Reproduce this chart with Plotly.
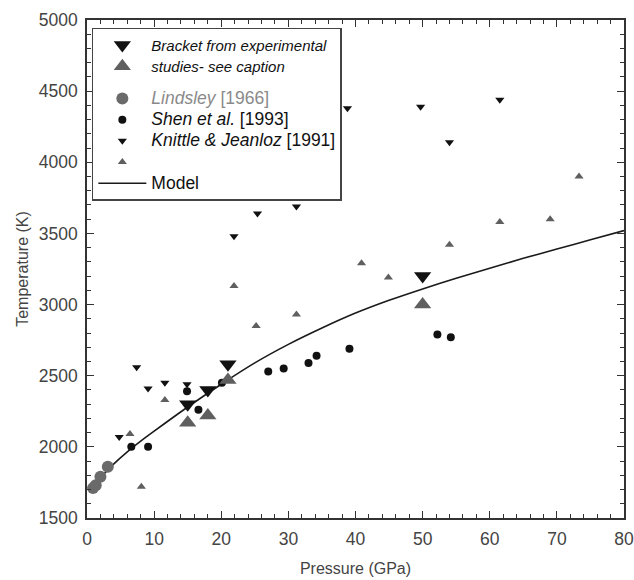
import plotly.graph_objects as go

# ---- data ----
bracket_P = [15, 18, 21, 50]
bracket_T_upper = [2300, 2400, 2580, 3200]
bracket_T_lower = [2170, 2220, 2470, 3000]

lindsley_P = [0.9, 1.3, 2.0, 3.1]
lindsley_T = [1710, 1730, 1790, 1860]

shen_P = [6.6, 9.1, 14.9, 16.6, 20.1, 27.0, 29.3, 33.0, 34.2, 39.1, 52.2, 54.2]
shen_T = [2000, 2000, 2390, 2260, 2450, 2530, 2550, 2590, 2640, 2690, 2790, 2770]

kj_down_P = [4.8, 7.4, 9.1, 11.6, 14.9, 21.9, 25.4, 31.2, 38.8, 49.7, 54.0, 61.5]
kj_down_T = [2070, 2560, 2410, 2450, 2440, 3480, 3640, 3690, 4380, 4390, 4140, 4440]

kj_up_P = [6.4, 8.1, 11.6, 21.9, 25.2, 31.2, 40.9, 44.9, 54.0, 61.5, 69.0, 73.3]
kj_up_T = [2090, 1720, 2330, 3130, 2850, 2930, 3290, 3190, 3420, 3580, 3600, 3900]

model_P = [1.8, 2, 4, 6, 8, 10, 15, 20, 25, 30, 35, 40, 45, 50, 55, 60, 65, 70, 75, 80]
model_T = [1765, 1780, 1880, 1965, 2040, 2110, 2280, 2440, 2590, 2720, 2835, 2940,
           3030, 3110, 3185, 3255, 3325, 3390, 3455, 3520]

x_ticks = [0, 10, 20, 30, 40, 50, 60, 70, 80]
y_ticks = [1500, 2000, 2500, 3000, 3500, 4000, 4500, 5000]

BLACK = "#111111"
GRAY = "#5f5f5f"
FONT = "Liberation Sans, Arial, sans-serif"


def big(txt, size=17.5, color=None):
    style = f"font-size:{size}px" + (f";color:{color}" if color else "")
    return f"<span style='{style}'>{txt}</span>"


fig = go.Figure()

fig.add_trace(go.Scatter(x=model_P, y=model_T, mode="lines",
                         line=dict(color="#1a1a1a", width=1.6, shape="spline", smoothing=0.6),
                         name=big("Model"), legendrank=7, legendgroup="g2"))
fig.add_trace(go.Scatter(x=kj_up_P, y=kj_up_T, mode="markers",
                         marker=dict(symbol="triangle-up", size=8, color=GRAY),
                         name="", legendrank=6, legendgroup="g2"))
fig.add_trace(go.Scatter(x=kj_down_P, y=kj_down_T, mode="markers",
                         marker=dict(symbol="triangle-down", size=8, color=BLACK),
                         name=big("<i>Knittle & Jeanloz</i> [1991]"), legendrank=5, legendgroup="g2"))
fig.add_trace(go.Scatter(x=lindsley_P, y=lindsley_T, mode="markers",
                         marker=dict(symbol="circle", size=12, color="#6a6a6a"),
                         name=big("<i>Lindsley</i> [1966]", color="#8a8a8a"),
                         legendrank=3, legendgroup="g2"))
fig.add_trace(go.Scatter(x=shen_P, y=shen_T, mode="markers",
                         marker=dict(symbol="circle", size=8, color=BLACK),
                         name=big("<i>Shen et al.</i> [1993]"), legendrank=4, legendgroup="g2"))
fig.add_trace(go.Scatter(x=bracket_P, y=bracket_T_lower, mode="markers",
                         marker=dict(symbol="triangle-up", size=15, color=GRAY),
                         name=big("<i>studies- see caption</i>", size=15),
                         legendrank=2, legendgroup="g1"))
fig.add_trace(go.Scatter(x=bracket_P, y=bracket_T_upper, mode="markers",
                         marker=dict(symbol="triangle-down", size=15, color=BLACK),
                         name=big("<i>Bracket from experimental</i>", size=15),
                         legendrank=1, legendgroup="g1"))

axis_common = dict(
    showline=True, linecolor="#333333", linewidth=1.5, mirror="ticks",
    ticks="inside", ticklen=7, tickwidth=1.2, tickcolor="#333333",
    showgrid=False, zeroline=False, automargin=False,
    ticklabeloverflow="allow",
    tickfont=dict(family=FONT, size=17.5, color="#444444"),
)

fig.update_xaxes(range=[0, 80], tickvals=x_ticks, ticktext=[str(v) for v in x_ticks],
                 minor=dict(dtick=2, ticklen=4, tickcolor="#333333", ticks="inside"),
                 ticklabelstandoff=4,
                 title=dict(text="Pressure (GPa)", standoff=15,
                            font=dict(family=FONT, size=16, color="#444444")),
                 **axis_common)
fig.update_yaxes(range=[1500, 5000], tickvals=y_ticks, ticktext=[str(v) for v in y_ticks],
                 minor=dict(dtick=100, ticklen=4, tickcolor="#333333", ticks="inside"),
                 ticklabelstandoff=4,
                 title=dict(text="Temperature (K)", standoff=6,
                            font=dict(family=FONT, size=16, color="#444444")),
                 **axis_common)

fig.update_layout(
    width=634, height=580,
    margin=dict(l=87, r=10, t=20, b=62),
    plot_bgcolor="white", paper_bgcolor="white",
    showlegend=True,
    legend=dict(x=0.009, y=0.984, xanchor="left", yanchor="top",
                bgcolor="white", bordercolor="#444444", borderwidth=1.5,
                font=dict(family=FONT, size=14, color="#111111"),
                itemsizing="trace", itemwidth=48, traceorder="grouped", tracegroupgap=11),
    font=dict(family=FONT),
)

fig.write_html("out.html")
